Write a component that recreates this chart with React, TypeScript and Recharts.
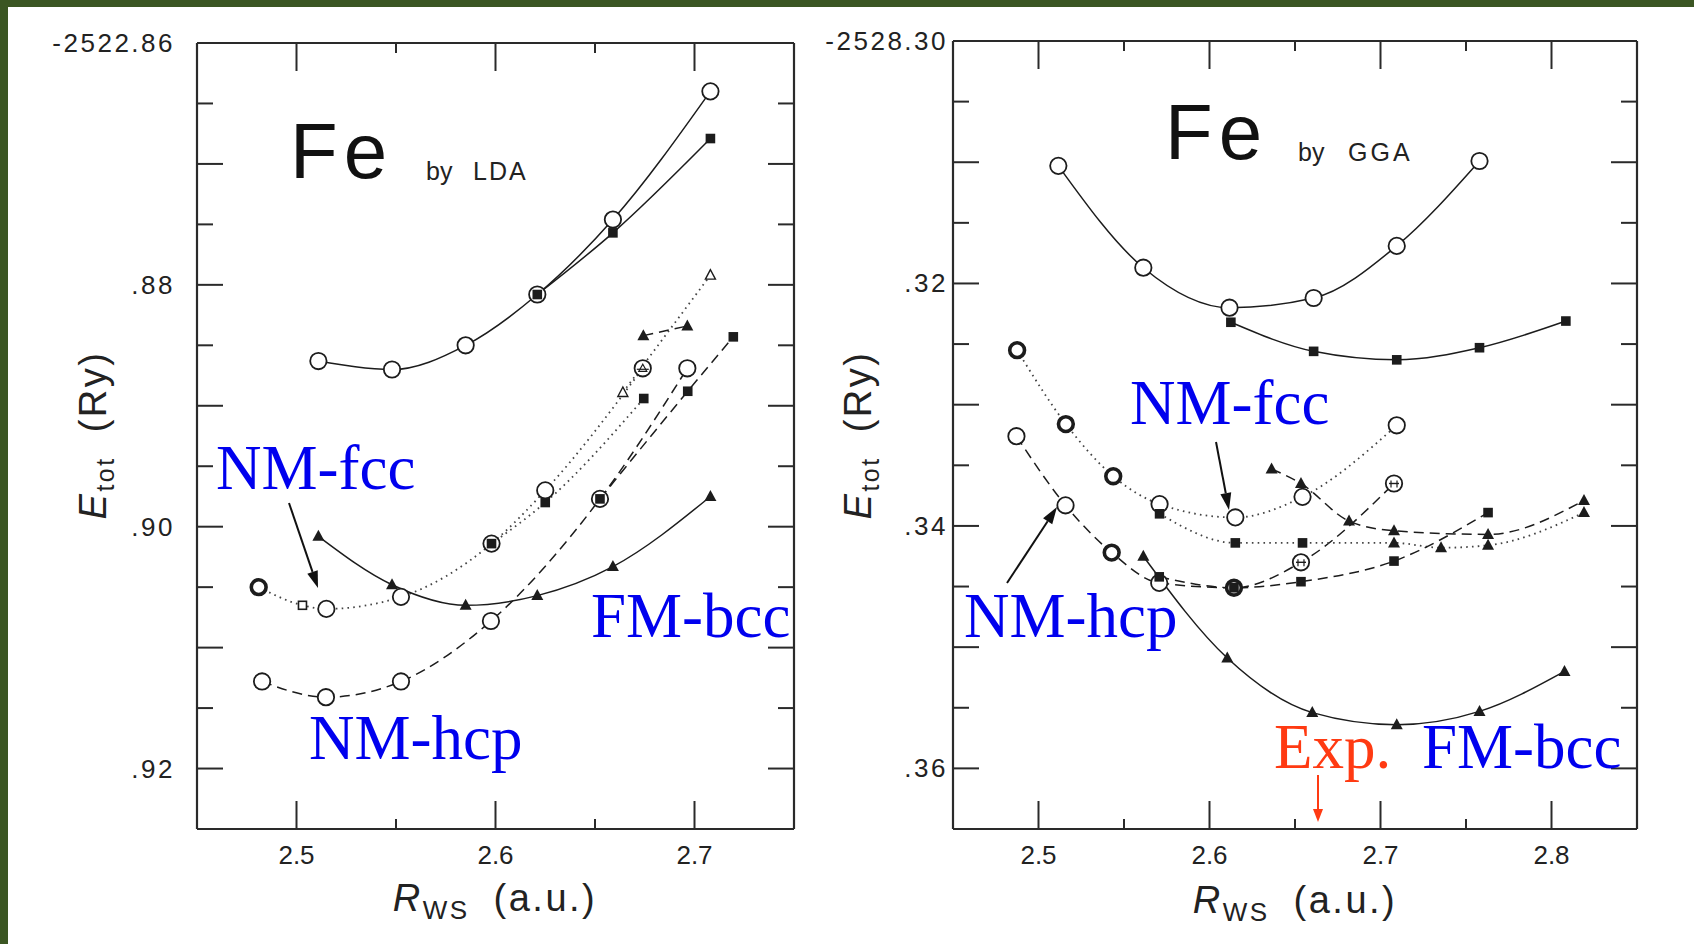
import React from 'react';
import { LineChart, Line, XAxis, YAxis } from 'recharts';

type Pt = { r: number; e: number };

// ---------------- axis definitions ----------------
const ldaRDomain = [2.45, 2.75];
const ldaEDomain = [-2522.925, -2522.86];
const ldaRTicks = [2.5, 2.55, 2.6, 2.65, 2.7];
const ldaETicks = [
  -2522.86, -2522.865, -2522.87, -2522.875, -2522.88, -2522.885, -2522.89,
  -2522.895, -2522.9, -2522.905, -2522.91, -2522.915, -2522.92,
];

const ggaRDomain = [2.45, 2.85];
const ggaEDomain = [-2528.365, -2528.3];
const ggaRTicks = [2.5, 2.55, 2.6, 2.65, 2.7, 2.75, 2.8];
const ggaETicks = [
  -2528.3, -2528.305, -2528.31, -2528.315, -2528.32, -2528.325, -2528.33,
  -2528.335, -2528.34, -2528.345, -2528.35, -2528.355, -2528.36,
];

// ---------------- LDA data ----------------
const ldaNmBcc: Pt[] = [
  { r: 2.511, e: -2522.8863 }, { r: 2.548, e: -2522.887 }, { r: 2.585, e: -2522.885 },
  { r: 2.621, e: -2522.8808 }, { r: 2.659, e: -2522.8746 }, { r: 2.708, e: -2522.864 },
];
const ldaAfmBcc: Pt[] = [
  { r: 2.621, e: -2522.8808 }, { r: 2.659, e: -2522.8757 }, { r: 2.708, e: -2522.8679 },
];
const ldaFmBcc: Pt[] = [
  { r: 2.511, e: -2522.9008 }, { r: 2.548, e: -2522.9048 }, { r: 2.585, e: -2522.9065 },
  { r: 2.621, e: -2522.9057 }, { r: 2.659, e: -2522.9033 }, { r: 2.708, e: -2522.8975 },
];
const ldaNmFcc: Pt[] = [
  { r: 2.481, e: -2522.905 }, { r: 2.503, e: -2522.9065 }, { r: 2.515, e: -2522.9068 },
  { r: 2.5525, e: -2522.9058 }, { r: 2.598, e: -2522.9014 }, { r: 2.625, e: -2522.897 },
  { r: 2.674, e: -2522.8869 },
];
const ldaOpenTri: Pt[] = [
  { r: 2.664, e: -2522.8889 }, { r: 2.708, e: -2522.8792 },
];
const ldaSqDotted: Pt[] = [
  { r: 2.598, e: -2522.9014 }, { r: 2.625, e: -2522.898 }, { r: 2.6745, e: -2522.8894 },
];
const ldaTriDashed: Pt[] = [
  { r: 2.6743, e: -2522.8842 }, { r: 2.6964, e: -2522.8834 },
];
const ldaNmHcp: Pt[] = [
  { r: 2.4827, e: -2522.9128 }, { r: 2.5148, e: -2522.9141 }, { r: 2.5525, e: -2522.9128 },
  { r: 2.5977, e: -2522.9078 }, { r: 2.6525, e: -2522.8977 }, { r: 2.6964, e: -2522.8869 },
];
const ldaSqDashed: Pt[] = [
  { r: 2.6525, e: -2522.8977 }, { r: 2.6966, e: -2522.8888 }, { r: 2.7195, e: -2522.8843 },
];

// ---------------- GGA data ----------------
const ggaNmBcc: Pt[] = [
  { r: 2.5116, e: -2528.3103 }, { r: 2.5613, e: -2528.3187 }, { r: 2.6117, e: -2528.322 },
  { r: 2.6609, e: -2528.3212 }, { r: 2.7095, e: -2528.3169 }, { r: 2.7579, e: -2528.3099 },
];
const ggaAfmBcc: Pt[] = [
  { r: 2.6125, e: -2528.3232 }, { r: 2.6609, e: -2528.3256 }, { r: 2.7095, e: -2528.3263 },
  { r: 2.7579, e: -2528.3253 }, { r: 2.8084, e: -2528.3231 },
];
const ggaFmBcc: Pt[] = [
  { r: 2.5613, e: -2528.3425 }, { r: 2.6104, e: -2528.3509 }, { r: 2.6601, e: -2528.3554 },
  { r: 2.7095, e: -2528.3564 }, { r: 2.7579, e: -2528.3553 }, { r: 2.8076, e: -2528.352 },
];
const ggaNmFcc: Pt[] = [
  { r: 2.4875, e: -2528.3255 }, { r: 2.516, e: -2528.3316 }, { r: 2.5437, e: -2528.3359 },
  { r: 2.5708, e: -2528.3382 }, { r: 2.6151, e: -2528.3393 }, { r: 2.6544, e: -2528.3376 },
  { r: 2.7095, e: -2528.3317 },
];
const ggaDotted: Pt[] = [
  { r: 2.5708, e: -2528.339 }, { r: 2.6151, e: -2528.3414 }, { r: 2.6544, e: -2528.3414 },
  { r: 2.7079, e: -2528.3414 }, { r: 2.7354, e: -2528.3418 }, { r: 2.7629, e: -2528.3416 },
  { r: 2.819, e: -2528.3389 },
];
const ggaTriDashed: Pt[] = [
  { r: 2.6363, e: -2528.3353 }, { r: 2.6535, e: -2528.3365 }, { r: 2.6816, e: -2528.3396 },
  { r: 2.7079, e: -2528.3404 }, { r: 2.7629, e: -2528.3407 }, { r: 2.819, e: -2528.3379 },
];
const ggaNmHcp: Pt[] = [
  { r: 2.4871, e: -2528.3326 }, { r: 2.5158, e: -2528.3383 }, { r: 2.5428, e: -2528.3422 },
  { r: 2.5706, e: -2528.3447 }, { r: 2.6143, e: -2528.3451 }, { r: 2.6535, e: -2528.343 },
  { r: 2.7079, e: -2528.3365 },
];
const ggaSqDashed: Pt[] = [
  { r: 2.5706, e: -2528.3442 }, { r: 2.6143, e: -2528.3451 }, { r: 2.6535, e: -2528.3446 },
  { r: 2.7079, e: -2528.3429 }, { r: 2.7629, e: -2528.3389 },
];

// ---------------- styles ----------------
const GREEN = '#3b5623';
const INK = '#1c1c1c';
const FRAME = '#2a2a2a';
const BLUE = '#0000ee';
const RED = '#ff3a12';
const SANS = '"Liberation Sans", Arial, Helvetica, sans-serif';
const SERIF = '"Liberation Serif", "Times New Roman", serif';

const DASH: Record<string, string | undefined> = {
  solid: undefined,
  dotted: '1.6 4.2',
  dashed: '10 6',
};

type Series = { id: string; data: Pt[]; line: 'solid' | 'dotted' | 'dashed'; kinds: string[] };

const ldaSeries: Series[] = [
  { id: 'lNmBcc', data: ldaNmBcc, line: 'solid', kinds: ['open'] },
  { id: 'lNmFcc', data: ldaNmFcc, line: 'dotted', kinds: ['bold', 'openSq', 'open', 'open', 'open', 'open', 'circleTri'] },
  { id: 'lNmHcp', data: ldaNmHcp, line: 'dashed', kinds: ['open'] },
  { id: 'lOpenTri', data: ldaOpenTri, line: 'dotted', kinds: ['openTri'] },
  { id: 'lAfmBcc', data: ldaAfmBcc, line: 'solid', kinds: ['square'] },
  { id: 'lSqDot', data: ldaSqDotted, line: 'dotted', kinds: ['square'] },
  { id: 'lSqDash', data: ldaSqDashed, line: 'dashed', kinds: ['square'] },
  { id: 'lTriDash', data: ldaTriDashed, line: 'dashed', kinds: ['tri'] },
  { id: 'lFmBcc', data: ldaFmBcc, line: 'solid', kinds: ['tri'] },
];

const ggaSeries: Series[] = [
  { id: 'gNmBcc', data: ggaNmBcc, line: 'solid', kinds: ['open'] },
  { id: 'gNmFcc', data: ggaNmFcc, line: 'dotted', kinds: ['bold', 'bold', 'bold', 'open'] },
  { id: 'gNmHcp', data: ggaNmHcp, line: 'dashed', kinds: ['open', 'open', 'bold', 'open', 'bold', 'circlePlus', 'circlePlus'] },
  { id: 'gAfmBcc', data: ggaAfmBcc, line: 'solid', kinds: ['square'] },
  { id: 'gDot', data: ggaDotted, line: 'dotted', kinds: ['square', 'square', 'square', 'tri'] },
  { id: 'gTriDash', data: ggaTriDashed, line: 'dashed', kinds: ['tri'] },
  { id: 'gSqDash', data: ggaSqDashed, line: 'dashed', kinds: ['square'] },
  { id: 'gFmBcc', data: ggaFmBcc, line: 'solid', kinds: ['tri'] },
];

function marker(kind: string, cx: number, cy: number, key: string) {
  switch (kind) {
    case 'open':
      return <circle key={key} cx={cx} cy={cy} r={8.2} fill="#fff" stroke={INK} strokeWidth={1.8} />;
    case 'bold':
      return <circle key={key} cx={cx} cy={cy} r={7.4} fill="#fff" stroke={INK} strokeWidth={3.6} />;
    case 'square':
      return <rect key={key} x={cx - 4.8} y={cy - 4.8} width={9.6} height={9.6} fill={INK} />;
    case 'tri':
      return (
        <polygon key={key} points={`${cx},${cy - 6.5} ${cx - 6},${cy + 4.5} ${cx + 6},${cy + 4.5}`} fill={INK} />
      );
    case 'openTri':
      return (
        <polygon key={key} points={`${cx},${cy - 5.5} ${cx - 5},${cy + 4} ${cx + 5},${cy + 4}`} fill="#fff" stroke={INK} strokeWidth={1.4} />
      );
    case 'openSq':
      return <rect key={key} x={cx - 4} y={cy - 4} width={8} height={8} fill="#fff" stroke={INK} strokeWidth={1.6} />;
    case 'circlePlus':
      return (
        <g key={key}>
          <circle cx={cx} cy={cy} r={8.2} fill="#fff" stroke={INK} strokeWidth={1.8} />
          <line x1={cx - 5} y1={cy} x2={cx + 5} y2={cy} stroke={INK} strokeWidth={1.4} />
          <line x1={cx - 3} y1={cy - 3} x2={cx - 3} y2={cy + 4} stroke={INK} strokeWidth={1.2} />
          <line x1={cx + 3} y1={cy - 3} x2={cx + 3} y2={cy + 4} stroke={INK} strokeWidth={1.2} />
        </g>
      );
    case 'circleTri':
      return (
        <g key={key}>
          <circle cx={cx} cy={cy} r={8.2} fill="#fff" stroke={INK} strokeWidth={1.8} />
          <polygon points={`${cx},${cy - 4} ${cx - 4},${cy + 3} ${cx + 4},${cy + 3}`} fill="#fff" stroke={INK} strokeWidth={1.2} />
          <line x1={cx - 6} y1={cy + 1} x2={cx + 6} y2={cy + 1} stroke={INK} strokeWidth={1.2} />
        </g>
      );
    default:
      return <g key={key} />;
  }
}

const dotsFor = (id: string, kinds: string[]) => (p: any) => {
  const k = kinds[p.index] ?? kinds[kinds.length - 1];
  const key = `${id}-${p.index}`;
  if (p.cx == null || p.cy == null) return <g key={key} />;
  return marker(k, p.cx, p.cy, key);
};

// ---------------- tick renderers ----------------
const X_MAJOR = 28;
const X_MINOR = 10;
const Y_LONG = 26;
const Y_SHORT = 16;

const isMajorR = (v: number) => Math.round(v * 100) % 10 === 0;
const eMilli = (v: number) => Math.round(Math.abs(v) * 1000);

const makeBottomTick = () => (p: any) => {
  const { x, y, payload } = p;
  const v = payload.value as number;
  const major = isMajorR(v);
  return (
    <g key={`bt-${v}`}>
      <line x1={x} y1={y} x2={x} y2={y - (major ? X_MAJOR : X_MINOR)} stroke={FRAME} strokeWidth={2} />
      {major && (
        <text x={x} y={y + 35} textAnchor="middle" fontSize={26} fontFamily={SANS} fill="#222">
          {v.toFixed(1)}
        </text>
      )}
    </g>
  );
};

const makeTopTick = () => (p: any) => {
  const { x, y, payload } = p;
  const v = payload.value as number;
  const major = isMajorR(v);
  return (
    <g key={`tt-${v}`}>
      <line x1={x} y1={y} x2={x} y2={y + (major ? X_MAJOR : X_MINOR)} stroke={FRAME} strokeWidth={2} />
    </g>
  );
};

const makeLeftTick = (top: number, gap: number) => (p: any) => {
  const { x, y, payload } = p;
  const v = payload.value as number;
  const m = eMilli(v);
  const long = m % 10 === 0;
  const lab = m % 20 === 0;
  const text = Math.abs(v - top) < 1e-6 ? v.toFixed(2) : '.' + String(Math.round(Math.abs(v) * 100) % 100).padStart(2, '0');
  return (
    <g key={`lt-${v}`}>
      <line x1={x} y1={y} x2={x + (long ? Y_LONG : Y_SHORT)} y2={y} stroke={FRAME} strokeWidth={2} />
      {lab && (
        <text x={x - gap} y={y + 9} textAnchor="end" fontSize={26} letterSpacing={2.5} fontFamily={SANS} fill="#222">
          {text}
        </text>
      )}
    </g>
  );
};

const makeRightTick = () => (p: any) => {
  const { x, y, payload } = p;
  const v = payload.value as number;
  const long = eMilli(v) % 10 === 0;
  return (
    <g key={`rt-${v}`}>
      <line x1={x} y1={y} x2={x - (long ? Y_LONG : Y_SHORT)} y2={y} stroke={FRAME} strokeWidth={2} />
    </g>
  );
};

// ---------------- panel ----------------
type PanelProps = {
  width: number;
  height: number;
  margin: { top: number; right: number; bottom: number; left: number };
  rDomain: number[];
  eDomain: number[];
  rTicks: number[];
  eTicks: number[];
  series: Series[];
  labelGap: number;
};

function Panel({ width, height, margin, rDomain, eDomain, rTicks, eTicks, series, labelGap }: PanelProps) {
  return (
    <LineChart width={width} height={height} margin={margin}>
      <XAxis
        xAxisId="b"
        type="number"
        dataKey="r"
        domain={rDomain}
        ticks={rTicks}
        interval={0}
        allowDataOverflow
        height={100}
        tickSize={0}
        tickMargin={0}
        tickLine={false}
        axisLine={{ stroke: FRAME, strokeWidth: 2.2 }}
        tick={makeBottomTick()}
      />
      <XAxis
        xAxisId="t"
        orientation="top"
        type="number"
        dataKey="r"
        domain={rDomain}
        ticks={rTicks}
        interval={0}
        allowDataOverflow
        height={1}
        tickSize={0}
        tickMargin={0}
        tickLine={false}
        axisLine={{ stroke: FRAME, strokeWidth: 2.2 }}
        tick={makeTopTick()}
      />
      <YAxis
        yAxisId="l"
        type="number"
        domain={eDomain}
        ticks={eTicks}
        interval={0}
        allowDataOverflow
        width={100}
        tickSize={0}
        tickMargin={0}
        tickLine={false}
        axisLine={{ stroke: FRAME, strokeWidth: 2.2 }}
        tick={makeLeftTick(eDomain[1], labelGap)}
      />
      <YAxis
        yAxisId="r"
        orientation="right"
        type="number"
        domain={eDomain}
        ticks={eTicks}
        interval={0}
        allowDataOverflow
        width={1}
        tickSize={0}
        tickMargin={0}
        tickLine={false}
        axisLine={{ stroke: FRAME, strokeWidth: 2.2 }}
        tick={makeRightTick()}
      />
      <Line
        key="mirror"
        xAxisId="t"
        yAxisId="r"
        data={series[0].data}
        dataKey="e"
        stroke="none"
        dot={false}
        activeDot={false}
        legendType="none"
        isAnimationActive={false}
      />
      {series.map((s) => (
        <Line
          key={`${s.id}-line`}
          xAxisId="b"
          yAxisId="l"
          data={s.data}
          dataKey="e"
          type="monotone"
          stroke={s.line === 'dotted' ? '#444' : INK}
          strokeWidth={s.line === 'dotted' ? 1.8 : 1.5}
          strokeDasharray={DASH[s.line]}
          dot={false}
          activeDot={false}
          isAnimationActive={false}
        />
      ))}
      {series.map((s) => (
        <Line
          key={`${s.id}-dots`}
          xAxisId="b"
          yAxisId="l"
          data={s.data}
          dataKey="e"
          stroke="none"
          dot={dotsFor(s.id, s.kinds)}
          activeDot={false}
          isAnimationActive={false}
        />
      ))}
    </LineChart>
  );
}

// ---------------- annotations ----------------
function Arrow({ x1, y1, x2, y2, color, w, hl, hw }: { x1: number; y1: number; x2: number; y2: number; color: string; w: number; hl: number; hw: number }) {
  const dx = x2 - x1;
  const dy = y2 - y1;
  const L = Math.hypot(dx, dy);
  const ux = dx / L;
  const uy = dy / L;
  const bx = x2 - ux * hl;
  const by = y2 - uy * hl;
  const px = -uy * hw / 2;
  const py = ux * hw / 2;
  return (
    <g>
      <line x1={x1} y1={y1} x2={bx} y2={by} stroke={color} strokeWidth={w} />
      <polygon points={`${x2},${y2} ${bx + px},${by + py} ${bx - px},${by - py}`} fill={color} />
    </g>
  );
}

function YTitle({ x, y }: { x: number; y: number }) {
  return (
    <g transform={`translate(${x},${y}) rotate(-90)`}>
      <text x={0} y={0} textAnchor="middle" fontSize={38} fontFamily={SANS} fill="#222" letterSpacing={2.5}>
        <tspan fontStyle="italic">E</tspan>
        <tspan fontSize={25} dy={8}>tot</tspan>
        <tspan dy={-8} dx={24}>(Ry)</tspan>
      </text>
    </g>
  );
}

function XTitle({ x, y }: { x: number; y: number }) {
  return (
    <text x={x} y={y} textAnchor="middle" fontSize={38} fontFamily={SANS} fill="#222" letterSpacing={2.5}>
      <tspan fontStyle="italic">R</tspan>
      <tspan fontSize={26} dy={8}>WS</tspan>
      <tspan dy={-8} dx={24}>(a.u.)</tspan>
    </text>
  );
}

export default function App() {
  return (
    <div
      style={{
        position: 'absolute',
        left: 0,
        top: 0,
        width: 1694,
        height: 944,
        background: '#fff',
        overflow: 'hidden',
        fontFamily: SANS,
      }}
    >
      <div style={{ position: 'absolute', left: 0, top: 0 }}>
        <Panel
          width={800}
          height={944}
          margin={{ top: 42, right: 5, bottom: 15, left: 97 }}
          rDomain={ldaRDomain}
          eDomain={ldaEDomain}
          rTicks={ldaRTicks}
          eTicks={ldaETicks}
          series={ldaSeries}
          labelGap={22}
        />
      </div>
      <div style={{ position: 'absolute', left: 800, top: 0 }}>
        <Panel
          width={894}
          height={944}
          margin={{ top: 40, right: 56, bottom: 15, left: 53 }}
          rDomain={ggaRDomain}
          eDomain={ggaEDomain}
          rTicks={ggaRTicks}
          eTicks={ggaETicks}
          series={ggaSeries}
          labelGap={5}
        />
      </div>
      <svg
        width={1694}
        height={944}
        style={{ position: 'absolute', left: 0, top: 0, pointerEvents: 'none' }}
      >
        {/* LDA panel text */}
        <text x={290} y={178} fontSize={78} fontFamily={SANS} letterSpacing={6} fill="#111">Fe</text>
        <text x={426} y={180} fontSize={25} fontFamily={SANS} fill="#222">by</text>
        <text x={473} y={180} fontSize={25} fontFamily={SANS} letterSpacing={2} fill="#222">LDA</text>
        <YTitle x={106} y={435} />
        <XTitle x={495} y={911} />
        <text x={216} y={489} fontSize={63} fontFamily={SERIF} fill={BLUE}>NM-fcc</text>
        <text x={591} y={637} fontSize={63} fontFamily={SERIF} fill={BLUE}>FM-bcc</text>
        <text x={309} y={759} fontSize={63} fontFamily={SERIF} fill={BLUE}>NM-hcp</text>
        <Arrow x1={289} y1={503} x2={318} y2={588} color="#111" w={2} hl={17} hw={11} />

        {/* GGA panel text */}
        <text x={1165} y={159} fontSize={78} fontFamily={SANS} letterSpacing={6} fill="#111">Fe</text>
        <text x={1298} y={161} fontSize={25} fontFamily={SANS} fill="#222">by</text>
        <text x={1348} y={161} fontSize={25} fontFamily={SANS} letterSpacing={3} fill="#222">GGA</text>
        <YTitle x={871} y={435} />
        <XTitle x={1295} y={913} />
        <text x={1130} y={424} fontSize={63} fontFamily={SERIF} fill={BLUE}>NM-fcc</text>
        <text x={964} y={637} fontSize={63} fontFamily={SERIF} fill={BLUE}>NM-hcp</text>
        <text x={1274} y={768} fontSize={63} fontFamily={SERIF} fill={RED}>Exp.</text>
        <text x={1422} y={768} fontSize={63} fontFamily={SERIF} fill={BLUE}>FM-bcc</text>
        <Arrow x1={1216} y1={442} x2={1229} y2={510} color="#111" w={2} hl={17} hw={11} />
        <Arrow x1={1007} y1={583} x2={1057} y2={507} color="#111" w={2} hl={17} hw={11} />
        <Arrow x1={1318} y1={775} x2={1318} y2={822} color={RED} w={2} hl={13} hw={10} />
      </svg>
      <div style={{ position: 'absolute', left: 0, top: 0, width: 1694, height: 7, background: GREEN }} />
      <div style={{ position: 'absolute', left: 0, top: 0, width: 8, height: 944, background: GREEN }} />
    </div>
  );
}
